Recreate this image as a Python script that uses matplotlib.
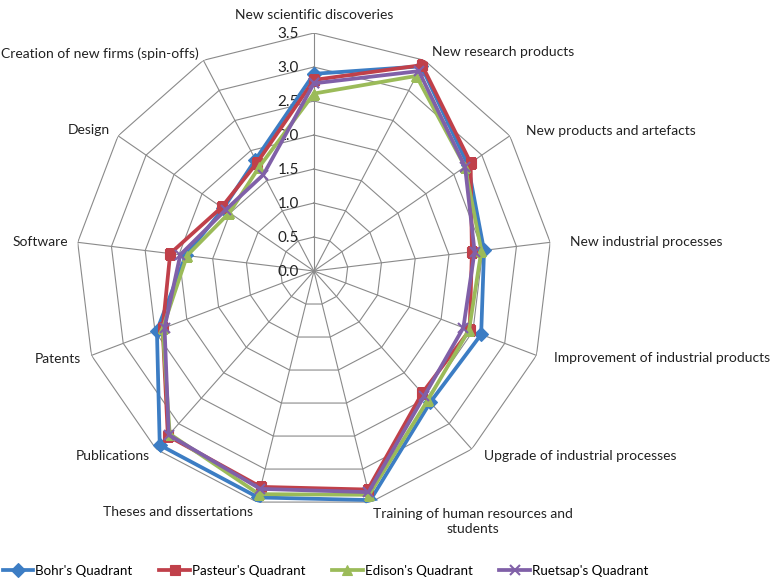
import numpy as np
import matplotlib
matplotlib.use("Agg")
import matplotlib.pyplot as plt

plt.rcParams['font.family'] = ['Lato', 'DejaVu Sans']

categories = [
    "New scientific discoveries",
    "New research products",
    "New products and artefacts",
    "New industrial processes",
    "Improvement of industrial products",
    "Upgrade of industrial processes",
    "Training of human resources and\nstudents",
    "Theses and dissertations",
    "Publications",
    "Patents",
    "Software",
    "Design",
    "Creation of new firms (spin-offs)",
]

bohr = [2.90, 3.40, 2.75, 2.52, 2.63, 2.58, 3.47, 3.43, 3.42, 2.47, 1.90, 1.62, 1.85]
pasteur = [2.81, 3.42, 2.80, 2.34, 2.45, 2.40, 3.31, 3.27, 3.24, 2.38, 2.13, 1.65, 1.80]
edison = [2.61, 3.24, 2.70, 2.48, 2.44, 2.53, 3.39, 3.38, 3.20, 2.38, 1.88, 1.51, 1.73]
ruetsap = [2.76, 3.32, 2.70, 2.38, 2.35, 2.45, 3.35, 3.30, 3.22, 2.35, 1.98, 1.58, 1.60]

series_names = ["Bohr's Quadrant", "Pasteur's Quadrant", "Edison's Quadrant", "Ruetsap's Quadrant"]
r_ticks = [0.0, 0.5, 1.0, 1.5, 2.0, 2.5, 3.0, 3.5]

colors = ['#3C7DC4', '#C0404A', '#9BBB59', '#8060A8']
markers = ['D', 's', '^', 'x']

n = len(categories)
theta = np.arange(n) * 2 * np.pi / n
theta_closed = np.append(theta, theta[0])

fig = plt.figure(figsize=(7.84, 5.82), dpi=100)
ax = fig.add_axes([0.0969, 0.1254, 0.6071, 0.8179], projection='polar')
ax.set_theta_offset(np.pi / 2)
ax.set_theta_direction(-1)
ax.set_ylim(0, r_ticks[-1])
ax.axis('off')

grid_color = '#8A8A8A'
# polygon rings
for r in r_ticks[1:]:
    ax.plot(theta_closed, [r] * (n + 1), color=grid_color, lw=0.8, zorder=1)
# spokes
for t in theta:
    ax.plot([t, t], [0, r_ticks[-1]], color=grid_color, lw=0.8, zorder=1)

# radial value labels along the top spoke
for r in r_ticks:
    ax.annotate(f"{r:.1f}", xy=(0, r), xytext=(-11, -1), textcoords='offset points',
                ha='right', va='center', fontsize=11, color='#222222')

# category labels just outside the outer ring (offsets in pixels)
label_offsets = [
    (0, 18, 'center', 'center'),
    (7, 8, 'left', 'center'),
    (16, 5, 'left', 'center'),
    (20, 0, 'left', 'center'),
    (18, -3, 'left', 'center'),
    (12, -7, 'left', 'center'),
    (2, -6, 'left', 'top'),
    (-4, -10, 'right', 'center'),
    (-6, -7, 'right', 'center'),
    (-10, -4, 'right', 'center'),
    (-10, 0, 'right', 'center'),
    (-8, 6, 'right', 'center'),
    (-5, 7, 'right', 'center'),
]
for t, lab, (dx, dy, ha, va) in zip(theta, categories, label_offsets):
    ax.annotate(lab, xy=(t, r_ticks[-1]), xytext=(dx * 0.72, dy * 0.72),
                textcoords='offset points', ha=ha, va=va, fontsize=10,
                multialignment='center', linespacing=1.25, color='#222222',
                annotation_clip=False)

handles = []
for vals, name, c, m in zip([bohr, pasteur, edison, ruetsap], series_names, colors, markers):
    v = np.append(vals, vals[0])
    h, = ax.plot(theta_closed, v, color=c, lw=2.7, marker=m, markersize=7,
                 markeredgewidth=1.5 if m == 'x' else 0.8, markeredgecolor=c,
                 label=name, zorder=3)
    handles.append(h)

fig.legend(handles=handles, labels=series_names, loc='center left',
           bbox_to_anchor=(-0.012, 0.019), ncol=4, frameon=False, fontsize=9.6,
           handlelength=2.3, handletextpad=0.15, columnspacing=2.0)

fig.savefig('out.png', dpi=100)
